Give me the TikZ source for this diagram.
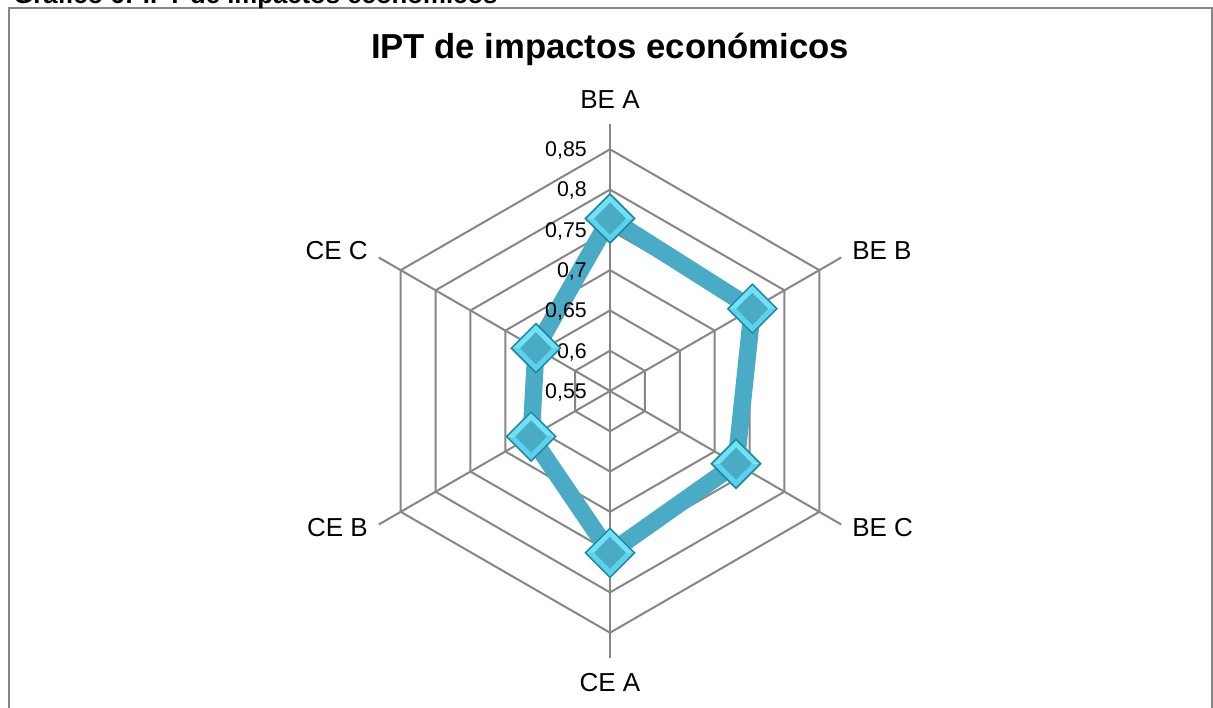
\documentclass[tikz,border=0pt]{standalone}
\usepackage{fontspec}
\setmainfont{Liberation Sans}
\definecolor{gridgray}{HTML}{868686}
\definecolor{framegray}{HTML}{868686}
\definecolor{serieblue}{HTML}{4AABC6}
\definecolor{mkin}{HTML}{4AABC5}
\definecolor{mkhi}{HTML}{6FE2F8}
\definecolor{mklo}{HTML}{5AD3EE}
\definecolor{mkline}{HTML}{23839E}
\begin{document}
\begin{tikzpicture}[x=0.75pt,y=0.75pt,
  gridline/.style={draw=gridgray,line width=1.5pt},
  framebox/.style={draw=framegray,line width=1.5pt},
  series/.style={draw=serieblue,line width=13pt,line join=round},
  catlabel/.style={font=\fontsize{19.5}{22}\selectfont,inner sep=0pt},
  ticklabel/.style={font=\fontsize{16}{18}\selectfont,inner sep=0pt,anchor=base east},
  titlestyle/.style={font=\bfseries\fontsize{26}{30}\selectfont,inner sep=0pt,anchor=base},
  capstyle/.style={font=\bfseries\fontsize{19.3}{22}\selectfont,inner sep=0pt,anchor=base west},
  diamondmk/.pic={
    \fill[mkhi] (-25.5,0) -- (0,25.5) -- (25.5,0) -- (16,0) -- (0,16) -- (-16,0) -- cycle;
    \fill[mklo] (-25.5,0) -- (0,-25.5) -- (25.5,0) -- (16,0) -- (0,-16) -- (-16,0) -- cycle;
    \fill[mkin] (-16,0) -- (0,16) -- (16,0) -- (0,-16) -- cycle;
    \draw[mkline,line width=1.1pt,line join=miter] (-24.5,0) -- (0,24.5) -- (24.5,0) -- (0,-24.5) -- cycle;
  }]
\useasboundingbox (0,0) rectangle (1213,707);
\fill[white] (0,0) rectangle (1213,707);
\draw[framebox] (8.5,-20) -- (8.5,698.5) -- (1211.5,698.5) -- (1211.5,-20);
\node[capstyle] (cap) at (13,703.5) {Gráfico 6: IPT de impactos económicos};
\node[titlestyle] (title) at (610,648.5) {IPT de impactos económicos};
\coordinate (O) at (610,316);
% rings
\foreach \k in {1,...,6}{
  \pgfmathsetmacro{\rr}{\k*40.28}
  \draw[gridline,shift={(O)}] (90:\rr) -- (30:\rr) -- (-30:\rr) -- (-90:\rr) -- (-150:\rr) -- (150:\rr) -- cycle;
}
% spokes
\foreach \a in {90,30,-30,-90,-150,150}{
  \draw[gridline] (O) -- ([shift={(\a:267)}]O);
}
% category labels
\node[catlabel,anchor=base] (beA) at (610,598) {BE A};
\node[catlabel,anchor=base west] (beB) at (852,447.7) {BE B};
\node[catlabel,anchor=base west] (beC) at (852,170.3) {BE C};
\node[catlabel,anchor=base] (ceA) at (610,15.3) {CE A};
\node[catlabel,anchor=base east] (ceB) at (368,170.3) {CE B};
\node[catlabel,anchor=base east] (ceC) at (368,447.7) {CE C};
% data
\coordinate (pBEA) at ([shift={(90:172.5)}]O);
\coordinate (pBEB) at ([shift={(30:164.4)}]O);
\coordinate (pBEC) at ([shift={(-30:145.5)}]O);
\coordinate (pCEA) at ([shift={(-90:161.8)}]O);
\coordinate (pCEB) at ([shift={(-150:91.1)}]O);
\coordinate (pCEC) at ([shift={(150:85.5)}]O);
\draw[series] (pBEA) -- (pBEB) -- (pBEC) -- (pCEA) -- (pCEB) -- (pCEC) -- cycle;
% tick labels (above the line, below the markers)
\foreach \k/\t in {0/{0,55},1/{0,6},2/{0,65},3/{0,7},4/{0,75},5/{0,8},6/{0,85}}{
  \pgfmathsetmacro{\yy}{\k*40.28-7.3}
  \node[ticklabel] (tick\k) at ([shift={(-23,\yy)}]O) {\t};
}
\foreach \p in {pBEA,pBEB,pBEC,pCEA,pCEB,pCEC}{
  \pic at (\p) {diamondmk};
}
\end{tikzpicture}
\end{document}
